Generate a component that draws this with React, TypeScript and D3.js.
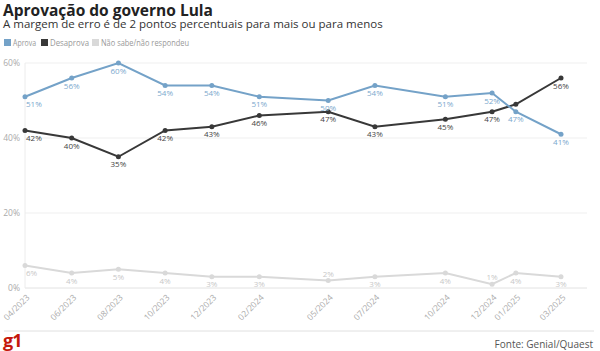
import { axisLeft, line, scaleLinear, scaleTime, select, timeFormat } from "d3";
import { useEffect, useRef } from "react";

const dates = [
  "2023-04", "2023-06", "2023-08", "2023-10", "2023-12", "2024-02",
  "2024-05", "2024-07", "2024-10", "2024-12", "2025-01", "2025-03",
];
const aprova = [51, 56, 60, 54, 54, 51, 50, 54, 51, 52, 47, 41];
const desaprova = [42, 40, 35, 42, 43, 46, 47, 43, 45, 47, 49, 56];
const naoSabe = [6, 4, 5, 4, 3, 3, 2, 3, 4, 1, 4, 3];
const yTicks = [0, 20, 40, 60];

const series = [
  { name: "Aprova", values: aprova, color: "#74a2c8", label: "#7ba8cd", hidden: [] as number[], above: [] as number[] },
  { name: "Desaprova", values: desaprova, color: "#383838", label: "#444", hidden: [10], above: [] as number[] },
  { name: "Não sabe/não respondeu", values: naoSabe, color: "#d9d9d9", label: "#c8c8c8", hidden: [] as number[], above: [6, 9] },
];

const W = 600;
const H = 351;
const font = "'Open Sans', sans-serif";

function parseMonth(s: string) {
  const [y, m] = s.split("-").map(Number);
  return new Date(y, m - 1, 1);
}

export default function App() {
  const svgRef = useRef<SVGSVGElement | null>(null);

  useEffect(() => {
    if (!svgRef.current) return;
    const svg = select(svgRef.current);
    svg.selectAll("*").remove();

    const parsed = dates.map(parseMonth);
    const x = scaleTime()
      .domain([parsed[0], parsed[parsed.length - 1]])
      .range([25, 561]);
    const y = scaleLinear().domain([0, 60]).range([288, 63]);

    // header
    svg
      .append("text")
      .attr("x", 3)
      .attr("y", 15.5)
      .attr("font-family", font)
      .attr("font-weight", 700)
      .attr("font-size", 15.5)
      .attr("fill", "#222")
      .text("Aprovação do governo Lula");
    svg
      .append("text")
      .attr("x", 3)
      .attr("y", 28)
      .attr("font-family", font)
      .attr("font-size", 11.5)
      .attr("fill", "#333")
      .text("A margem de erro é de 2 pontos percentuais para mais ou para menos");

    // legend (the original uses a narrow face, so squeeze the labels)
    const legendX = [4, 41, 92];
    const legendW = [23, 39, 88];
    const legend = svg.append("g");
    series.forEach((s, i) => {
      legend
        .append("rect")
        .attr("x", legendX[i])
        .attr("y", 39)
        .attr("width", 7)
        .attr("height", 7)
        .attr("fill", s.color);
      legend
        .append("text")
        .attr("x", legendX[i] + 9)
        .attr("y", 46)
        .attr("font-family", font)
        .attr("font-size", 8.5)
        .attr("fill", "#999")
        .attr("textLength", legendW[i])
        .attr("lengthAdjust", "spacingAndGlyphs")
        .text(s.name);
    });

    // grid + y axis
    const grid = svg.append("g");
    grid
      .selectAll("line")
      .data(yTicks)
      .join("line")
      .attr("x1", 25)
      .attr("x2", 587)
      .attr("y1", (d) => y(d))
      .attr("y2", (d) => y(d))
      .attr("stroke", (d) => (d === 0 ? "#e2e2e2" : "#efefef"))
      .attr("stroke-width", 1);
    grid
      .append("line")
      .attr("x1", 25)
      .attr("x2", 25)
      .attr("y1", y(60))
      .attr("y2", y(0))
      .attr("stroke", "#ececec");

    const yAxisGroup = svg
      .append("g")
      .attr("transform", "translate(25,0)")
      .call(axisLeft(y).tickValues(yTicks).tickSize(0).tickPadding(5).tickFormat((d) => `${d}%`));
    yAxisGroup.select(".domain").remove();
    yAxisGroup
      .selectAll("text")
      .attr("font-family", font)
      .attr("font-size", 8.5)
      .attr("fill", "#aaa");

    // x labels
    const fmt = timeFormat("%m/%Y");
    svg
      .append("g")
      .selectAll("text")
      .data(parsed)
      .join("text")
      .attr("transform", (d) => `translate(${x(d) + 3},${296}) rotate(-45)`)
      .attr("text-anchor", "end")
      .attr("dy", "0.35em")
      .attr("font-family", font)
      .attr("font-size", 8.5)
      .attr("fill", "#aaa")
      .text((d) => fmt(d));

    // lines
    const lineGen = line<number>()
      .x((_, i) => x(parsed[i]))
      .y((d) => y(d));

    [...series].reverse().forEach((s) => {
      const g = svg.append("g");
      g.append("path")
        .attr("d", lineGen(s.values))
        .attr("fill", "none")
        .attr("stroke", s.color)
        .attr("stroke-width", 2);
      g.selectAll("circle")
        .data(s.values)
        .join("circle")
        .attr("cx", (_, i) => x(parsed[i]))
        .attr("cy", (d) => y(d))
        .attr("r", 2.5)
        .attr("fill", s.color);
    });

    series.forEach((s) => {
      svg
        .append("g")
        .selectAll("text")
        .data(s.values.map((v, i) => ({ v, i })).filter((d) => !s.hidden.includes(d.i)))
        .join("text")
        .attr("x", (d) => x(parsed[d.i]) + (d.i === 0 ? 1 : 0))
        .attr("y", (d) => y(d.v) + (s.above.includes(d.i) ? -4 : 10.5))
        .attr("text-anchor", (d) => (d.i === 0 ? "start" : "middle"))
        .attr("font-family", font)
        .attr("font-size", 8)
        .attr("fill", s.label)
        .text((d) => `${d.v}%`);
    });

    // footer
    svg
      .append("line")
      .attr("x1", 4)
      .attr("x2", 594)
      .attr("y1", 331)
      .attr("y2", 331)
      .attr("stroke", "#e0e0e0");
    svg
      .append("text")
      .attr("x", 3)
      .attr("y", 347)
      .attr("font-family", font)
      .attr("font-weight", 700)
      .attr("font-size", 18)
      .attr("fill", "#c4170c")
      .attr("letter-spacing", -1)
      .text("g1");
    svg
      .append("text")
      .attr("x", 593)
      .attr("y", 348)
      .attr("text-anchor", "end")
      .attr("font-family", font)
      .attr("font-size", 10)
      .attr("fill", "#555")
      .text("Fonte: Genial/Quaest");
  }, []);

  return (
    <svg
      ref={svgRef}
      width={W}
      height={H}
      style={{ position: "absolute", left: 0, top: 0, background: "#fff" }}
      role="img"
      aria-label="Aprovação do governo Lula"
    />
  );
}
